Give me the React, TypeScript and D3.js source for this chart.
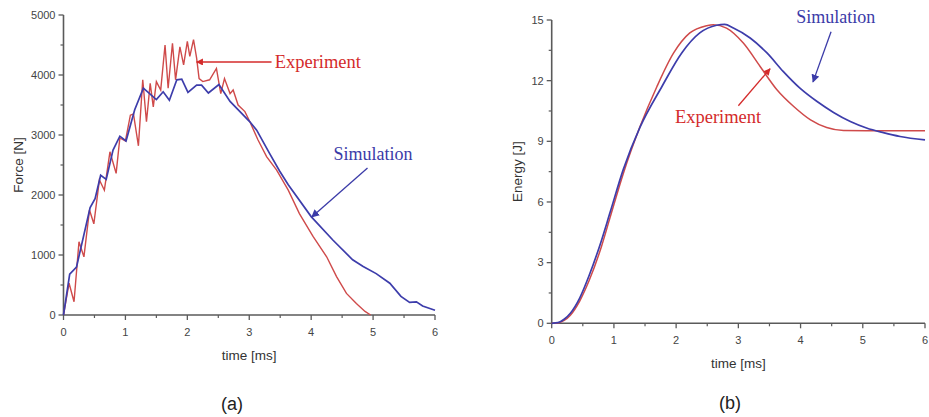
import * as d3 from 'd3';

const timeTicks = [0, 1, 2, 3, 4, 5, 6];
const forceTicks = [0, 1000, 2000, 3000, 4000, 5000];
const energyTicks = [0, 3, 6, 9, 12, 15];

// [time ms, force N]
const forceExperiment: [number, number][] = [
  [0, 0], [0.09, 530], [0.17, 220], [0.25, 1220], [0.33, 970], [0.42, 1750], [0.49, 1520],
  [0.58, 2250], [0.66, 2080], [0.75, 2720], [0.85, 2360], [0.91, 2950], [1.0, 2900],
  [1.08, 3330], [1.13, 3350], [1.21, 2820], [1.28, 3920], [1.34, 3220], [1.4, 3860],
  [1.45, 3470], [1.5, 3890], [1.57, 3750], [1.64, 4500], [1.69, 3780], [1.76, 4530],
  [1.81, 3920], [1.88, 4470], [1.94, 4170], [2.0, 4560], [2.04, 4310], [2.1, 4590],
  [2.15, 4280], [2.19, 3940], [2.25, 3890], [2.36, 3920], [2.47, 4110], [2.54, 3690],
  [2.6, 3940], [2.69, 3690], [2.74, 3750], [2.82, 3500], [2.93, 3390], [3.01, 3220],
  [3.14, 2920], [3.28, 2640], [3.44, 2420], [3.63, 2080], [3.81, 1690], [4.03, 1310],
  [4.25, 970], [4.41, 640], [4.57, 360], [4.73, 190], [4.87, 60], [4.96, 0],
];

const forceSimulation: [number, number][] = [
  [0, 0], [0.1, 680], [0.21, 800], [0.43, 1790], [0.51, 1940], [0.6, 2330], [0.69, 2260],
  [0.8, 2750], [0.91, 2980], [1.01, 2900], [1.15, 3420], [1.29, 3780], [1.5, 3590],
  [1.61, 3720], [1.71, 3580], [1.83, 3920], [1.91, 3930], [2.01, 3710], [2.15, 3830],
  [2.23, 3830], [2.34, 3700], [2.51, 3840], [2.69, 3560], [2.85, 3390], [3.01, 3220],
  [3.12, 3080], [3.33, 2690], [3.49, 2400], [3.63, 2170], [4.0, 1640], [4.35, 1250],
  [4.67, 920], [4.84, 810], [5.05, 690], [5.27, 530], [5.45, 310], [5.59, 210],
  [5.7, 220], [5.8, 150], [6.0, 80],
];

// [time ms, energy J]
const energyExperiment: [number, number][] = [
  [0, 0], [0.1, 0.02], [0.2, 0.14], [0.3, 0.4], [0.45, 1.1], [0.6, 2.1], [0.8, 3.8],
  [0.94, 5.25], [1.15, 7.4], [1.42, 9.73], [1.69, 11.7], [1.96, 13.37], [2.22, 14.36],
  [2.49, 14.72], [2.6, 14.77], [2.81, 14.6], [3.08, 13.86], [3.35, 12.7], [3.62, 11.55],
  [3.89, 10.72], [4.16, 10.06], [4.42, 9.68], [4.69, 9.53], [5.06, 9.52], [6.0, 9.52],
];

const energySimulation: [number, number][] = [
  [0, 0], [0.1, 0.03], [0.2, 0.2], [0.3, 0.5], [0.45, 1.25], [0.6, 2.35], [0.8, 4.1],
  [0.94, 5.5], [1.15, 7.6], [1.42, 9.7], [1.77, 11.7], [2.09, 13.37],
  [2.38, 14.36], [2.65, 14.74], [2.78, 14.78], [2.92, 14.6], [3.19, 14.11], [3.46, 13.37],
  [3.72, 12.46], [3.99, 11.63], [4.26, 10.98], [4.53, 10.43], [4.8, 9.98], [5.06, 9.66],
  [5.33, 9.43], [5.6, 9.24], [6.0, 9.07],
];

const RED = '#cf4a4a';
const BLUE = '#3d3dab';
const RED_TXT = '#d42b2b';
const BLUE_TXT = '#3b3ba8';
const AXIS = '#5a5a5a';
const SANS = 'Arial, "Liberation Sans", sans-serif';
const SERIF = '"Liberation Serif", "Times New Roman", serif';

type Scale = d3.ScaleLinear<number, number>;

function Axes({ x, y, yTicks, yMinor, xLabel, yLabel, yLabelX }: {
  x: Scale; y: Scale; yTicks: number[]; yMinor: number[];
  xLabel: string; yLabel: string; yLabelX: number;
}) {
  const [x0, x1] = x.range();
  const [y0, y1] = y.range();
  const xMinor = d3.range(0.5, 6, 1);
  return (
    <g fontFamily={SANS}>
      <line x1={x0} x2={x1} y1={y0} y2={y0} stroke={AXIS} strokeWidth={1.6} />
      <line x1={x0} x2={x0} y1={y0} y2={y1} stroke={AXIS} strokeWidth={1.6} />
      {timeTicks.map(t => (
        <g key={'x' + t}>
          <line x1={x(t)} x2={x(t)} y1={y0} y2={y0 + 5} stroke={AXIS} strokeWidth={1.3} />
          <text x={x(t)} y={y0 + 21} textAnchor="middle" fontSize={11} fill="#444">{t}</text>
        </g>
      ))}
      {xMinor.map(t => (
        <line key={'xm' + t} x1={x(t)} x2={x(t)} y1={y0} y2={y0 + 3} stroke={AXIS} strokeWidth={1.2} />
      ))}
      {yTicks.map(v => (
        <g key={'y' + v}>
          <line x1={x0 - 5} x2={x0} y1={y(v)} y2={y(v)} stroke={AXIS} strokeWidth={1.3} />
          <text x={x0 - 8} y={y(v)} dy="0.35em" textAnchor="end" fontSize={11} fill="#444">{v}</text>
        </g>
      ))}
      {yMinor.map(v => (
        <line key={'ym' + v} x1={x0 - 3} x2={x0} y1={y(v)} y2={y(v)} stroke={AXIS} strokeWidth={1.2} />
      ))}
      <text x={(x0 + x1) / 2} y={y0 + 45} textAnchor="middle" fontSize={13.5} fill="#333">{xLabel}</text>
      <text transform={`translate(${yLabelX},${(y0 + y1) / 2}) rotate(-90)`} dy="0.35em"
        textAnchor="middle" fontSize={13.5} fill="#333">{yLabel}</text>
    </g>
  );
}

export default function App() {
  const xF = d3.scaleLinear().domain([0, 6]).range([63.5, 435]);
  const yF = d3.scaleLinear().domain([0, 5000]).range([315, 15]);
  const xE = d3.scaleLinear().domain([0, 6]).range([551.7, 925]);
  const yE = d3.scaleLinear().domain([0, 15]).range([323.3, 20]);

  const lineF = d3.line<[number, number]>().x(d => xF(d[0])).y(d => yF(d[1]));
  const lineE = d3.line<[number, number]>().x(d => xE(d[0])).y(d => yE(d[1])).curve(d3.curveMonotoneX);

  return (
    <svg width={929} height={417} style={{ position: 'absolute', left: 0, top: 0, background: '#fff' }}>
      <defs>
        <marker id="headR" viewBox="0 0 10 10" refX={9} refY={5} markerWidth={7} markerHeight={7}
          markerUnits="userSpaceOnUse" orient="auto">
          <path d="M0,0 L10,5 L0,10 z" fill={RED_TXT} />
        </marker>
        <marker id="headB" viewBox="0 0 10 10" refX={9} refY={5} markerWidth={8} markerHeight={8}
          markerUnits="userSpaceOnUse" orient="auto">
          <path d="M0,0 L10,5 L0,10 z" fill={BLUE_TXT} />
        </marker>
      </defs>

      {/* (a) force */}
      <Axes x={xF} y={yF} yTicks={forceTicks} yMinor={d3.range(500, 5000, 1000)}
        xLabel="time [ms]" yLabel="Force [N]" yLabelX={18} />
      <path d={lineF(forceExperiment) ?? ''} fill="none" stroke={RED} strokeWidth={1.4} />
      <path d={lineF(forceSimulation) ?? ''} fill="none" stroke={BLUE} strokeWidth={1.7} />
      <line x1={xF(3.36)} y1={yF(4217)} x2={xF(2.15)} y2={yF(4217)} stroke={RED_TXT}
        strokeWidth={1.3} markerEnd="url(#headR)" />
      <text x={xF(3.41)} y={yF(4217)} dy="0.32em" fontFamily={SERIF} fontSize={18.5} fill={RED_TXT}>Experiment</text>
      <line x1={xF(4.91)} y1={yF(2450)} x2={xF(4.01)} y2={yF(1633)} stroke={BLUE_TXT}
        strokeWidth={1.3} markerEnd="url(#headB)" />
      <text x={xF(4.36)} y={yF(2683)} dy="0.32em" fontFamily={SERIF} fontSize={18} fill={BLUE_TXT}>Simulation</text>
      <text x={232} y={410} textAnchor="middle" fontFamily={SANS} fontSize={18} fill="#222">(a)</text>

      {/* (b) energy */}
      <Axes x={xE} y={yE} yTicks={energyTicks} yMinor={d3.range(1.5, 15, 3)}
        xLabel="time [ms]" yLabel="Energy [J]" yLabelX={517} />
      <path d={lineE(energyExperiment) ?? ''} fill="none" stroke={RED} strokeWidth={1.5} />
      <path d={lineE(energySimulation) ?? ''} fill="none" stroke={BLUE} strokeWidth={1.7} />
      <line x1={xE(3.0)} y1={yE(10.76)} x2={xE(3.51)} y2={yE(12.59)} stroke={RED_TXT}
        strokeWidth={1.3} markerEnd="url(#headR)" />
      <text x={xE(1.98)} y={yE(10.21)} dy="0.32em" fontFamily={SERIF} fontSize={18.5} fill={RED_TXT}>Experiment</text>
      <line x1={xE(4.49)} y1={yE(14.42)} x2={xE(4.2)} y2={yE(11.94)} stroke={BLUE_TXT}
        strokeWidth={1.3} markerEnd="url(#headB)" />
      <text x={xE(3.93)} y={yE(15.16)} dy="0.32em" fontFamily={SERIF} fontSize={18} fill={BLUE_TXT}>Simulation</text>
      <text x={730} y={409} textAnchor="middle" fontFamily={SANS} fontSize={18} fill="#222">(b)</text>
    </svg>
  );
}
